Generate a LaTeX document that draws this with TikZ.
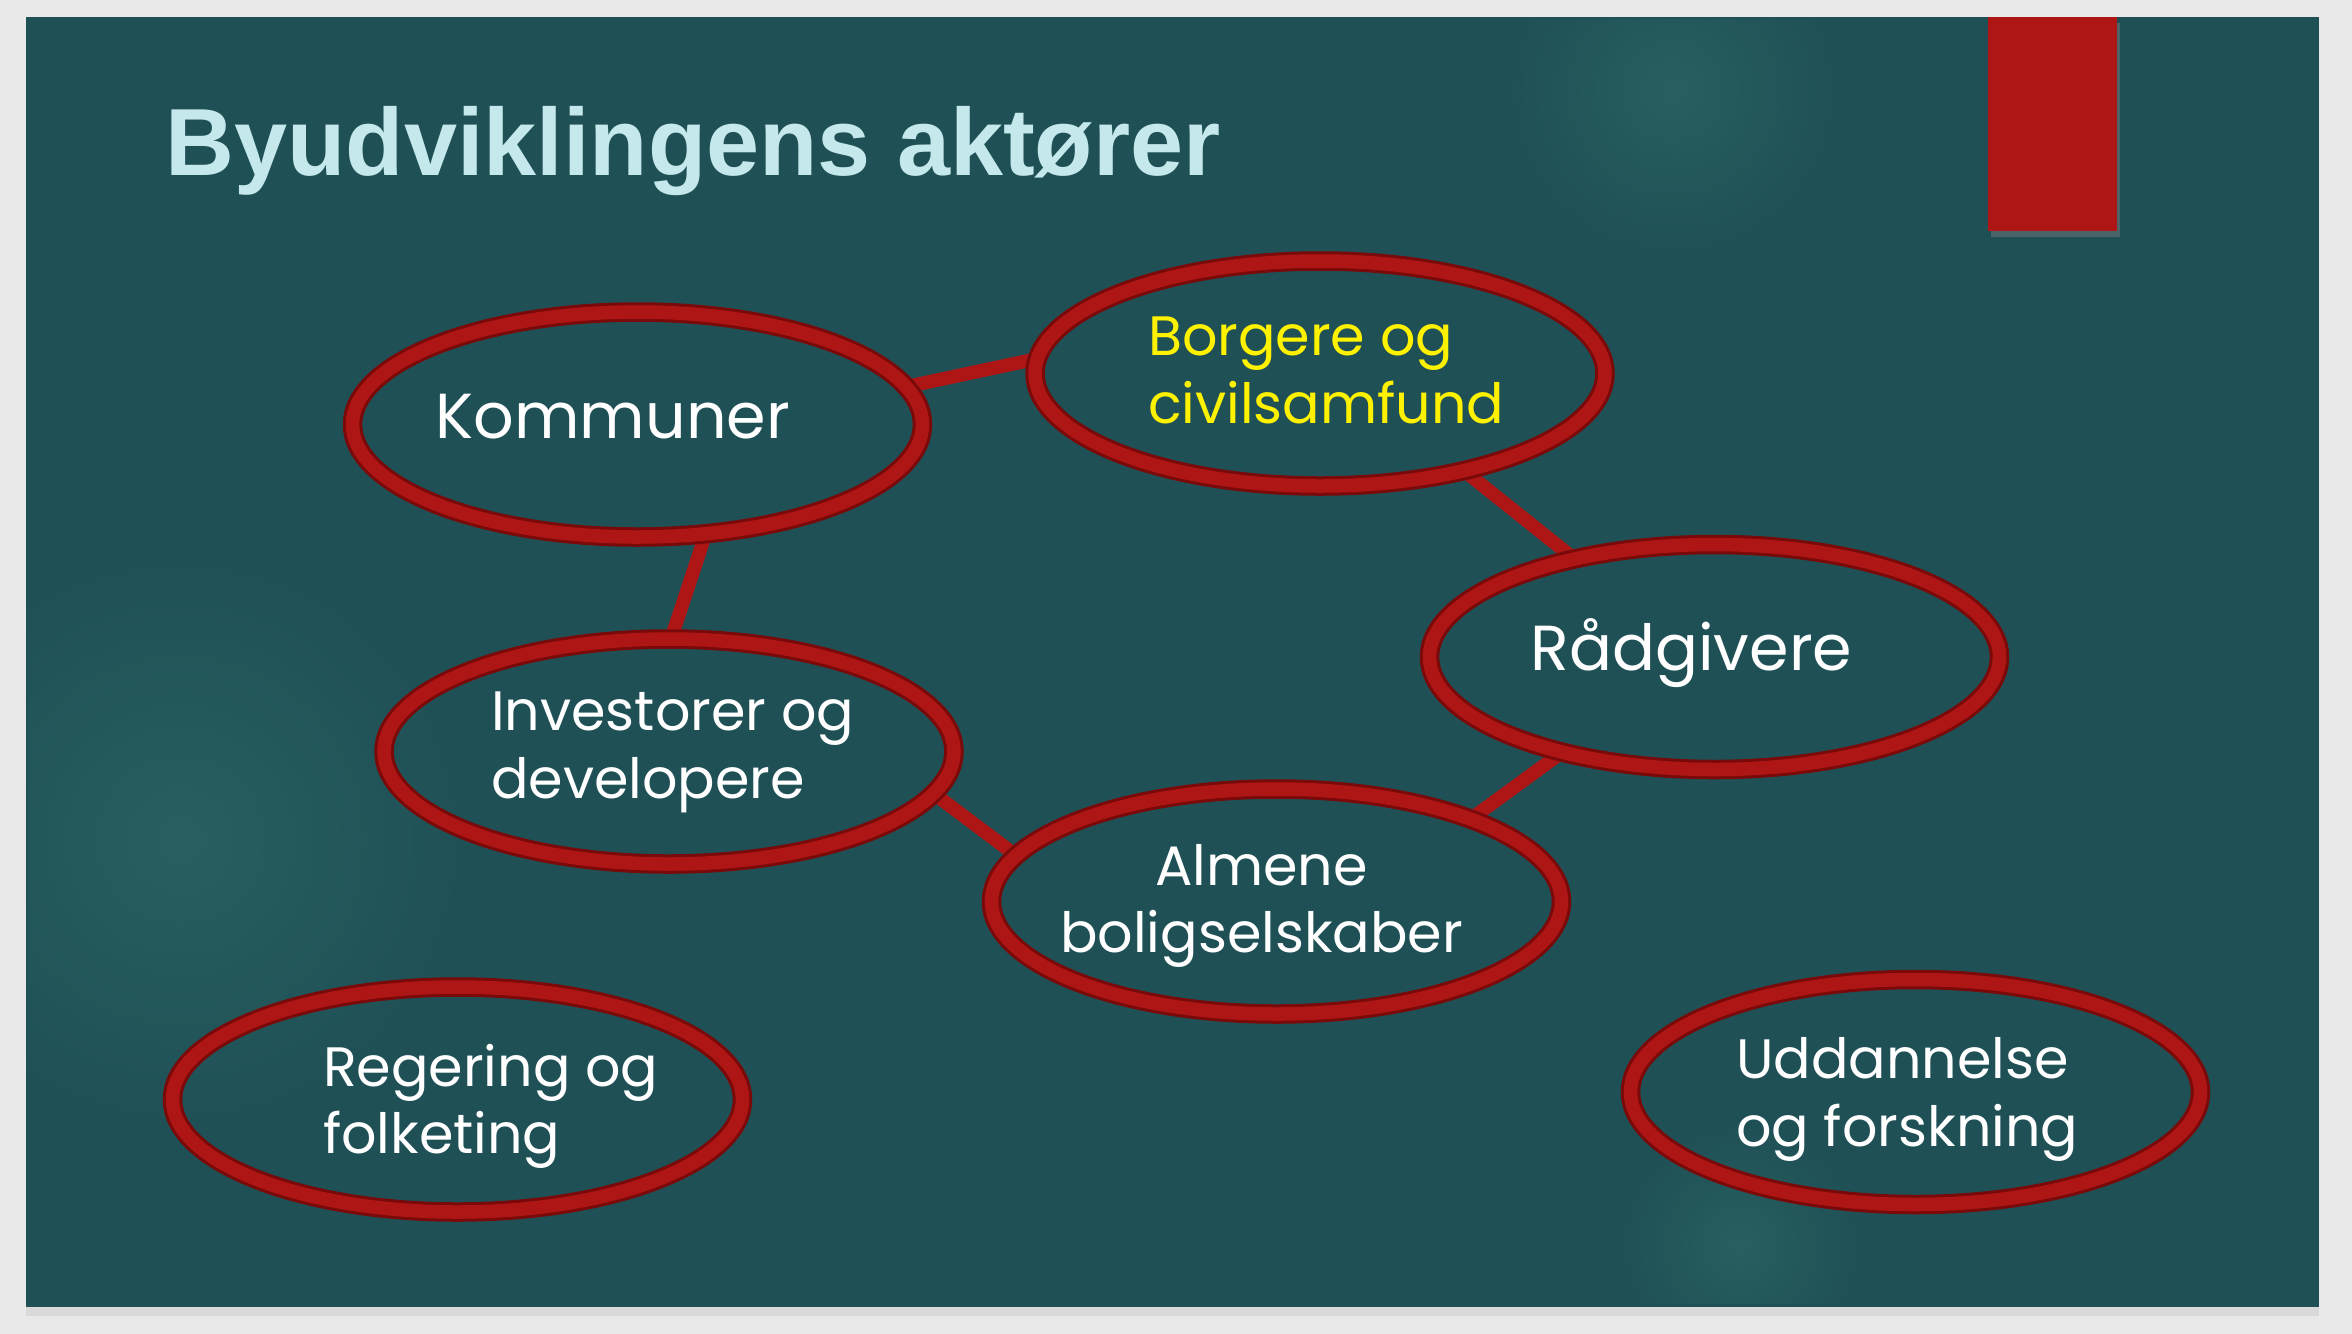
\documentclass[tikz,border=0pt]{standalone}
\usepackage{fontspec}
\newfontfamily\titlefont{Liberation Sans}
\newfontfamily\gothfont{Poppins}
\usetikzlibrary{shapes.geometric, shadows, backgrounds}

\definecolor{pagegray}{HTML}{E9E9E9}
\definecolor{slidebg}{HTML}{1F5056}
\definecolor{glowbg}{HTML}{27605F}
\definecolor{ringred}{HTML}{AE1515}
\definecolor{ringdark}{HTML}{7A0909}
\definecolor{titlecol}{HTML}{C4E8EB}

\tikzset{
  actor/.style={ellipse, draw=ringdark, double=ringred, line width=1pt, double distance=4.5pt,
    minimum width=190pt, minimum height=75pt, inner sep=0pt, outer sep=0pt},
  link/.style={ringred, line width=4.5pt, line cap=round},
  actortext/.style={text=white, font=\gothfont\fontsize{18.5}{22.5}\selectfont, align=left,
    anchor=base west, inner sep=0pt},
  bigtext/.style={actortext, font=\gothfont\fontsize{21.2}{26}\selectfont},
}

\begin{document}
\begin{tikzpicture}[x=0.5pt, y=-0.5pt]
          \useasboundingbox (0,0) rectangle (1568,889.3);

          % slide and title
          \begin{pgfonlayer}{background}
          \fill [pagegray] (0,0) rectangle (1568,889.3);
          \fill [slidebg, drop shadow={opacity=0.15, shadow xshift=0pt, shadow yshift=-3pt}] (17,11) rectangle (1546,871);
          \begin{scope}
            \clip (19,13) rectangle (1544,869);
            \shade [inner color=glowbg, outer color=slidebg] (1115,60) circle (110); % glows
            \shade [inner color=glowbg, outer color=slidebg] (120,560) circle (190);
            \shade [inner color=glowbg, outer color=slidebg] (1160,830) circle (80);
          \end{scope}
          \end{pgfonlayer}
          \fill [ringred, drop shadow={opacity=0.45, shadow xshift=1pt, shadow yshift=-2pt}] (1325,11) rectangle (1411,154); % red tab
          \node [anchor=base west, inner sep=0pt, text=titlecol, font=\titlefont\bfseries\fontsize{31.8}{38}\selectfont] (title) at (110,117) {Byudviklingens aktører};

          % the actors
          \node [actor] (kom) at (425,283) {};
          \node [actor] (bor) at (880,249) {};
          \node [actor] (rad) at (1143,438) {};
          \node [actor] (inv) at (446,501) {};
          \node [actor] (alm) at (851,601) {};
          \node [actor] (reg) at (305,733) {};
          \node [actor] (udd) at (1277,728) {};

          % texts, placed at the baseline of their last line
          \node [bigtext] (komtext) at (290,292) {Kommuner};
          \node [actortext, text=yellow] (bortext) at (765,282) {Borgere og\\civilsamfund};
          \node [bigtext] (radtext) at (1020,447) {Rådgivere};
          \node [actortext] (invtext) at (327,532) {Investorer og\\developere};
          \node [actortext, align=center, anchor=base] (almtext) at (841,635) {Almene\\boligselskaber};
          \node [actortext] (regtext) at (215,769) {Regering og\\folketing};
          \node [actortext] (uddtext) at (1157,764) {Uddannelse\\og forskning};

          % connectors, under the rings
          \begin{pgfonlayer}{background}
          \draw [link] (kom.8) -- (bor.177);
          \draw [link] (kom.-58) -- (inv.89);
          \draw [link] (bor.-34) -- (rad.145);
          \draw [link] (rad.212) -- (alm.23);
          \draw [link] (inv.-9) -- (alm.170);
          \end{pgfonlayer}
        \end{tikzpicture}
\end{document}
